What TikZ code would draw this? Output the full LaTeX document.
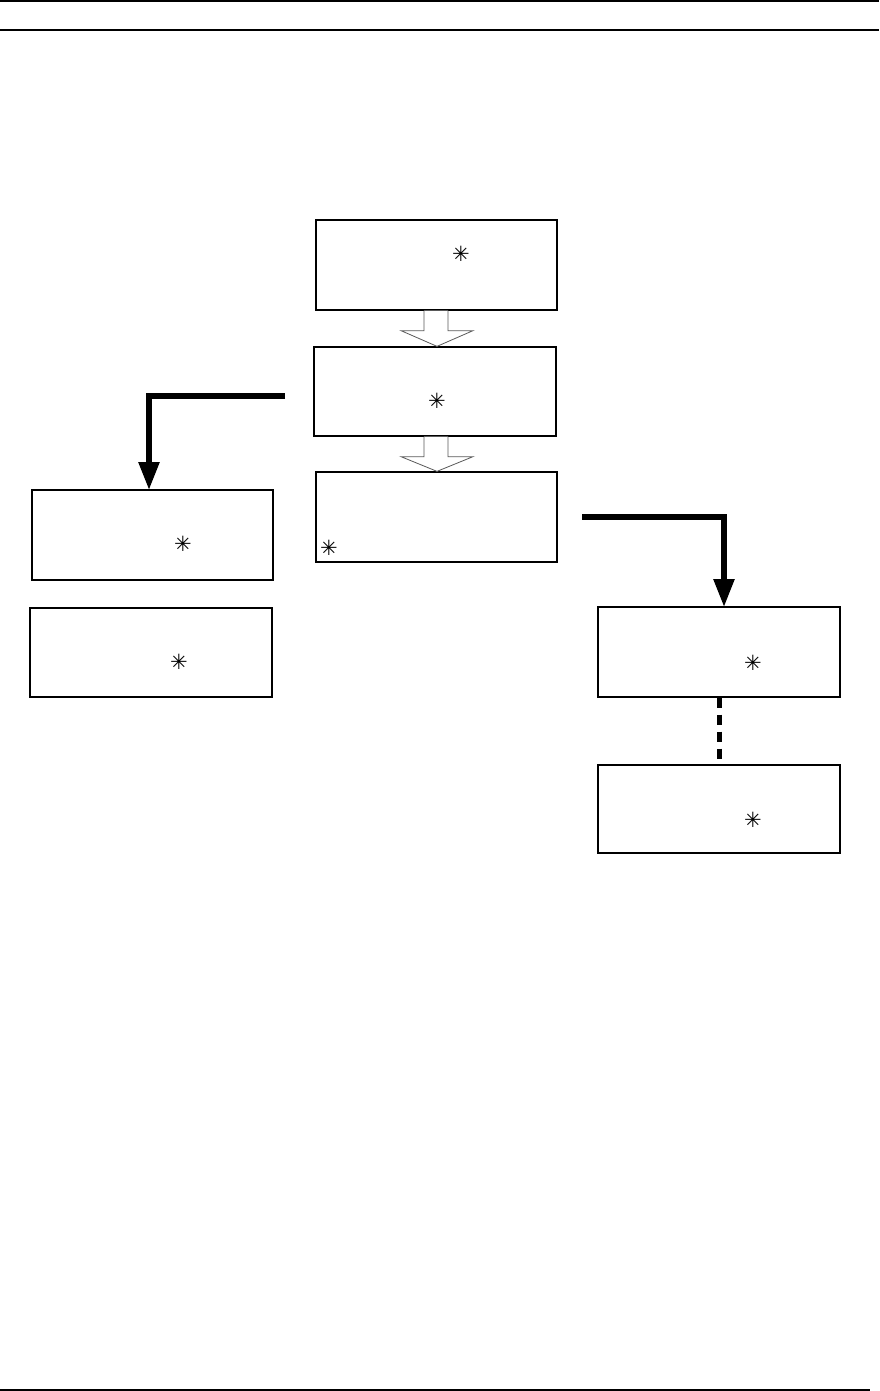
\documentclass[tikz,border=0pt]{standalone}
\usepackage{fontspec}
\newfontfamily\symfont{DejaVu Sans}
\usetikzlibrary{arrows.meta,calc}
\begin{document}
\begin{tikzpicture}[x=1pt,y=-1pt,
  box/.style={draw,line width=1.3pt,rectangle,inner sep=0pt},
  starmark/.style={inner sep=0pt,font=\symfont\bfseries\fontsize{21}{21}\selectfont},
  rule/.style={line width=2.2pt},
  hollow/.style={draw=black!65,line width=0.8pt,fill=white,line join=miter},
  bigarrow/.style={line width=5.5pt,line join=miter,-{Triangle[width=20pt,length=28pt]}},
  dashline/.style={line width=5pt,dash pattern=on 10pt off 7pt}]
\useasboundingbox (0,0) rectangle (879,1391);
% page rules
\draw[rule] (0,1) -- (879,1);
\draw[rule] (0,30) -- (879,30);
\draw[rule] (0,1390) -- (870,1390);
% boxes
\node[box,minimum width=241pt,minimum height=90pt] (A) at (436.5,265) {};
\node[box,minimum width=242pt,minimum height=89pt] (B) at (435,391.5) {};
\node[box,minimum width=241pt,minimum height=90pt] (C) at (436.5,517) {};
\node[box,minimum width=241pt,minimum height=90pt] (D) at (152.5,535) {};
\node[box,minimum width=242pt,minimum height=89pt] (E) at (151,652.5) {};
\node[box,minimum width=242pt,minimum height=90pt] (F) at (719,652) {};
\node[box,minimum width=242pt,minimum height=88pt] (G) at (719,809) {};
% star marks
\node[starmark] (sA) at (461,254) {✳};
\node[starmark] (sB) at (437,401) {✳};
\node[starmark] (sC) at (329,548) {✳};
\node[starmark] (sD) at (183,544) {✳};
\node[starmark] (sE) at (179,662) {✳};
\node[starmark] (sF) at (753,663) {✳};
\node[starmark] (sG) at (753,820) {✳};
% hollow arrows
\draw[hollow] ($(A.south)+(-12.5,0)$) -- ++(0,20) -- ++(-23,0) -- ($(B.north)+(2,0)$)
  -- ($(A.south)+(36.5,20)$) -- ++(-25,0) -- ++(0,-20);
\draw[hollow] ($(B.south)+(-11,0)$) -- ++(0,20) -- ++(-23,0) -- ($(C.north)+(0.5,0)$)
  -- ($(B.south)+(38,20)$) -- ++(-25,0) -- ++(0,-20);
% bent arrows
\coordinate (L0) at (285,396);
\coordinate (R0) at (582,517);
\draw[bigarrow] (L0) -- (149,396) -- (149,490);
\draw[bigarrow] (R0) -- (724,517) -- (724,607);
% dashed connector
\draw[dashline] (F.south) -- (G.north);
\end{tikzpicture}
\end{document}
